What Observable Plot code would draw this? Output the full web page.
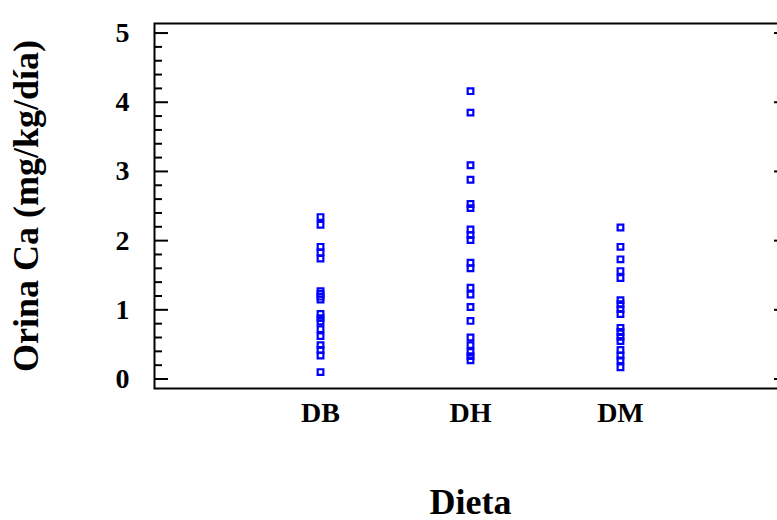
<!DOCTYPE html>
<html>
<head>
<meta charset="utf-8">
<script src="https://cdn.jsdelivr.net/npm/d3@7"></script>
<script src="https://cdn.jsdelivr.net/npm/@observablehq/plot@0.6"></script>
<style>
  html, body { margin: 0; padding: 0; background: white; overflow: hidden; }
  svg { max-width: none !important; display: block; }
</style>
</head>
<body>
<div id="chart"></div>
<script>
const categories = ["DB", "DH", "DM"];
const dbValues = [2.34, 2.23, 1.91, 1.83, 1.74, 1.27, 1.23, 1.19, 1.15, 0.94, 0.88, 0.83, 0.72, 0.62, 0.49, 0.42, 0.34, 0.10];
const dhValues = [4.16, 3.85, 3.09, 2.88, 2.53, 2.47, 2.16, 2.08, 2.01, 1.68, 1.60, 1.32, 1.22, 1.04, 0.84, 0.60, 0.49, 0.39, 0.33, 0.27];
const dmValues = [2.19, 1.91, 1.73, 1.56, 1.46, 1.14, 1.08, 1.01, 0.94, 0.74, 0.68, 0.61, 0.55, 0.42, 0.34, 0.27, 0.17];
const yTicks = [0, 1, 2, 3, 4, 5];
const xTitle = "Dieta";
const yTitle = "Orina Ca (mg/kg/día)";

const seriesList = [dbValues, dhValues, dmValues];
const data = seriesList.flatMap((vals, i) => vals.map(v => ({pos: i + 1, cat: categories[i], value: v})));
const minorTicks = d3.range(0, 26).filter(i => i % 5 !== 0).map(i => i / 5);

const font = "'Liberation Serif', 'Times New Roman', serif";
const W = 788, ML = 154, MR = 2;
const innerW = W - ML - MR;
const majorLen = 14, minorLen = 8;

const chart = Plot.plot({
  width: W,
  height: 520,
  marginLeft: ML,
  marginRight: MR,
  marginTop: 23,
  marginBottom: 132,
  x: {domain: [-0.107, 4.107]},
  y: {domain: [-0.137, 5.138]},
  style: {fontFamily: font, background: "white", maxWidth: "none"},
  marks: [
    Plot.frame({stroke: "black", strokeWidth: 2}),
    Plot.tickY(minorTicks, {y: d => d, insetRight: innerW - minorLen, stroke: "black", strokeWidth: 2}),
    Plot.tickY(yTicks, {y: d => d, insetRight: innerW - majorLen, stroke: "black", strokeWidth: 2}),
    Plot.tickY(yTicks, {y: d => d, insetLeft: innerW - 12, stroke: "black", strokeWidth: 2}),
    Plot.axisY({anchor: "left", ticks: yTicks, tickSize: 0, tickPadding: 25, tickFormat: d3.format("d"), fontSize: 28, fontWeight: "bold", fill: "black", label: null}),
    Plot.axisX({ticks: [1, 2, 3], tickSize: 0, tickPadding: 14, tickFormat: d => categories[d - 1], fontSize: 28, fontWeight: "bold", fill: "black", label: null}),
    Plot.dot(data, {x: "pos", y: "value", symbol: "square", r: 3.2, stroke: "#0000ff", strokeWidth: 2.2, fill: "none"}),
    Plot.text([xTitle], {text: d => d, frameAnchor: "bottom", dy: 125, lineAnchor: "bottom", textAnchor: "middle", fontSize: 36, fontWeight: "bold", fill: "black"}),
    Plot.text([yTitle], {text: d => d, frameAnchor: "left", rotate: -90, dx: -128, lineAnchor: "middle", textAnchor: "middle", fontSize: 36, fontWeight: "bold", fill: "black"})
  ]
});
document.getElementById("chart").appendChild(chart);
</script>
</body>
</html>
